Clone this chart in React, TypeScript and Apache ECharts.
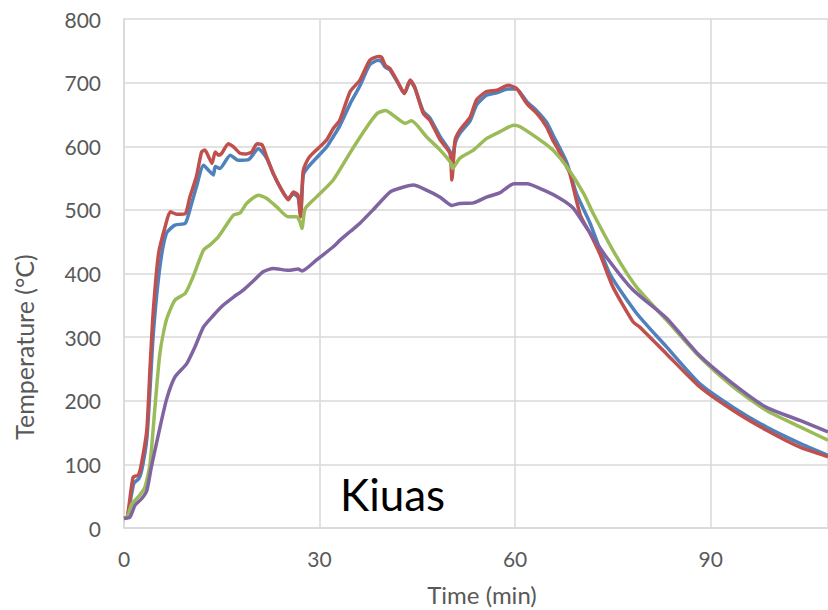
import React, { useEffect, useRef } from "react";
import * as echarts from "echarts";

const xTicks = [0, 30, 60, 90];
const yTicks = [0, 100, 200, 300, 400, 500, 600, 700, 800];
const seriesNames = ["Sensor 1", "Sensor 2", "Sensor 3", "Sensor 4"];
const colors = ["#4F81BD", "#C0504D", "#9BBB59", "#8064A2"];

const blue: [number, number][] = [
  [0, 15], [0.5, 17], [1.5, 70], [2.3, 78], [2.8, 95], [3.5, 140], [4, 220], [4.5, 306], [5.5, 410], [6.5, 463],
  [7.8, 476], [9.4, 479], [10.1, 500], [11.1, 536], [12.2, 570], [13, 562], [13.7, 555], [14, 568], [14.7, 565],
  [16.3, 586], [17.5, 578], [19.1, 579], [20.6, 596], [21.9, 581], [22.9, 557], [24.2, 531], [25.2, 518], [26, 525],
  [26.7, 520], [27.1, 495], [27.5, 555], [28.3, 568], [31.1, 599], [32.1, 615], [33.1, 632], [34.7, 667], [36.2, 695],
  [37.7, 728], [39, 735], [39.5, 733], [40.1, 724], [40.8, 720], [42.1, 698], [43, 683], [43.9, 702], [44.6, 692],
  [45.9, 655], [46.9, 645], [48.5, 615], [50, 592], [50.3, 575], [50.8, 605], [51.5, 620], [53.1, 640], [54.1, 665],
  [55.6, 680], [57.2, 684], [58.2, 688], [58.9, 690], [60.2, 690], [61.8, 670], [63.3, 656], [64.8, 638], [65.8, 618],
  [67.9, 575], [69.4, 526], [71.5, 479], [74.5, 400], [78.6, 338], [83.2, 285], [88.3, 227], [93.4, 190], [98.5, 159],
  [103.7, 133], [108, 114],
];

const red: [number, number][] = [
  [0, 15], [0.5, 17], [1.4, 80], [2.2, 83], [2.7, 102], [3.5, 154], [4, 253], [4.5, 342], [5.3, 431], [6.3, 473],
  [7.1, 497], [8.1, 493], [9.4, 494], [10.1, 520], [11.1, 552], [11.9, 591], [12.4, 594], [13, 583], [13.5, 573],
  [14, 591], [14.5, 586], [15, 589], [16, 604], [16.8, 599], [17.8, 589], [18.8, 588], [19.6, 591], [20.4, 604],
  [21.2, 602], [21.9, 583], [22.9, 557], [24.2, 531], [25.2, 516], [26, 528], [26.7, 523], [27, 494], [27.1, 489],
  [27.5, 562], [28.3, 581], [29.5, 594], [31.1, 610], [32.1, 628], [33.1, 641], [34.7, 686], [36.2, 704], [37.7, 735],
  [39, 741], [39.5, 740], [40.1, 727], [40.8, 722], [42.1, 699], [43, 683], [43.9, 704], [44.6, 693], [45.9, 652],
  [46.9, 641], [48.5, 610], [50, 589], [50.3, 547], [50.8, 610], [51.5, 625], [53.1, 646], [54.1, 673], [55.6, 686],
  [57.2, 688], [58.2, 693], [58.9, 696], [60.2, 691], [61.8, 667], [63.3, 652], [64.8, 631], [65.8, 609], [66.4, 599],
  [67.9, 568], [68.4, 557], [70, 492], [71.5, 463], [73, 431], [75, 379], [78.1, 324], [79.1, 316], [83.2, 274],
  [88.3, 222], [93.4, 185], [98.5, 154], [103.7, 127], [108, 112],
];

const green: [number, number][] = [
  [0, 15], [0.5, 17], [1.2, 38], [2.2, 49], [3.2, 64], [4, 101], [4.75, 190], [5.5, 274], [6.5, 327], [7.8, 358],
  [9.4, 369], [10.6, 395], [12.2, 437], [13.2, 445], [14.5, 458], [15.5, 473], [16.8, 492], [17.8, 495], [18.8, 510],
  [20.6, 523], [21.9, 518], [23.4, 505], [25.2, 489], [26.5, 489], [27, 481], [27.3, 471], [27.8, 502], [29.5, 520],
  [32.1, 547], [34.7, 590], [37.3, 631], [38.9, 652], [40.1, 656], [41.9, 644], [43.1, 636], [44.1, 640], [46.4, 615],
  [48.5, 594], [50.2, 573], [50.4, 565], [51.5, 581], [53.6, 594], [55.6, 612], [57.7, 623], [59.8, 633], [60.7, 631],
  [63.8, 610], [65.8, 594], [67.9, 568], [70.5, 526], [72, 494], [75.6, 426], [78.6, 379], [83.2, 327], [88.3, 269],
  [93.4, 222], [98.5, 185], [103.7, 159], [108, 138],
];

const purple: [number, number][] = [
  [0, 15], [0.9, 17], [1.7, 36], [2.7, 46], [3.5, 59], [4.2, 96], [5.3, 148], [6.5, 201], [7.8, 237], [9.6, 258],
  [10.9, 285], [12.2, 316], [13.7, 334], [15.2, 350], [16.8, 363], [18.3, 374], [19.9, 389], [21.4, 403], [22.9, 408],
  [25.2, 405], [26.7, 407], [27.3, 404], [29.5, 421], [32.1, 442], [33.1, 452], [34.7, 466], [36.2, 479], [38.2, 500],
  [40.8, 528], [42.3, 534], [44.4, 539], [46.4, 531], [48.5, 520], [50.3, 507], [51.5, 510], [53.6, 511], [55.6, 520],
  [57.7, 527], [59.8, 541], [61.8, 541], [64.4, 531], [66.9, 518], [68.9, 503], [70.5, 479], [74, 426], [78.1, 374],
  [83.2, 330], [88.3, 271], [93.4, 227], [98.5, 190], [103.7, 169], [108, 151],
];

const allSeries = [blue, red, green, purple];

const FONT = "Lato, 'Liberation Sans', sans-serif";
const LABEL = "#595959";
const GRID = "#D9D9D9";

export default function App() {
  const ref = useRef<HTMLDivElement>(null);
  useEffect(() => {
    if (!ref.current) return;
    const chart = echarts.init(ref.current, null, { renderer: "svg" });
    chart.setOption({
      animation: false,
      backgroundColor: "#ffffff",
      grid: { left: 124, right: 0, top: 19, bottom: 82, containLabel: false },
      xAxis: {
        type: "value",
        min: xTicks[0],
        max: 108,
        interval: 30,
        axisLine: { show: true, lineStyle: { color: GRID, width: 1.5 } },
        axisTick: { show: false },
        axisLabel: {
          color: LABEL, fontSize: 21, fontFamily: FONT, margin: 20, showMaxLabel: false,
          formatter: (v: number) => (xTicks.includes(v) ? String(v) : ""),
        },
        splitLine: { show: true, lineStyle: { color: GRID, width: 1.5 } },
      },
      yAxis: {
        type: "value",
        min: yTicks[0],
        max: yTicks[yTicks.length - 1],
        interval: 100,
        axisLine: { show: true, lineStyle: { color: GRID, width: 1.5 } },
        axisTick: { show: false },
        axisLabel: { color: LABEL, fontSize: 21, fontFamily: FONT, margin: 23 },
        splitLine: { show: true, lineStyle: { color: GRID, width: 1.5 } },
      },
      series: allSeries.map((d, i) => ({
        name: seriesNames[i],
        type: "line",
        data: d,
        showSymbol: false,
        symbol: "none",
        smooth: 0.2,
        lineStyle: { color: colors[i], width: 3.5 },
        itemStyle: { color: colors[i] },
      })),
      graphic: [
        {
          type: "text",
          left: 340,
          top: 472,
          style: { text: "Kiuas", fill: "#000000", font: `44px ${FONT}` },
          z: 100,
        },
        {
          type: "text",
          x: 24,
          y: 347,
          rotation: Math.PI / 2,
          style: {
            text: "Temperature (°C)",
            fill: LABEL,
            font: `25px ${FONT}`,
            align: "center",
            verticalAlign: "middle",
          },
        },
        {
          type: "text",
          x: 482,
          y: 594,
          style: {
            text: "Time (min)",
            fill: LABEL,
            font: `24px ${FONT}`,
            align: "center",
            verticalAlign: "middle",
          },
        },
      ],
    });
    return () => chart.dispose();
  }, []);
  return (
    <div
      ref={ref}
      style={{ position: "absolute", left: 0, top: 0, width: 828, height: 610, background: "#fff" }}
    />
  );
}
